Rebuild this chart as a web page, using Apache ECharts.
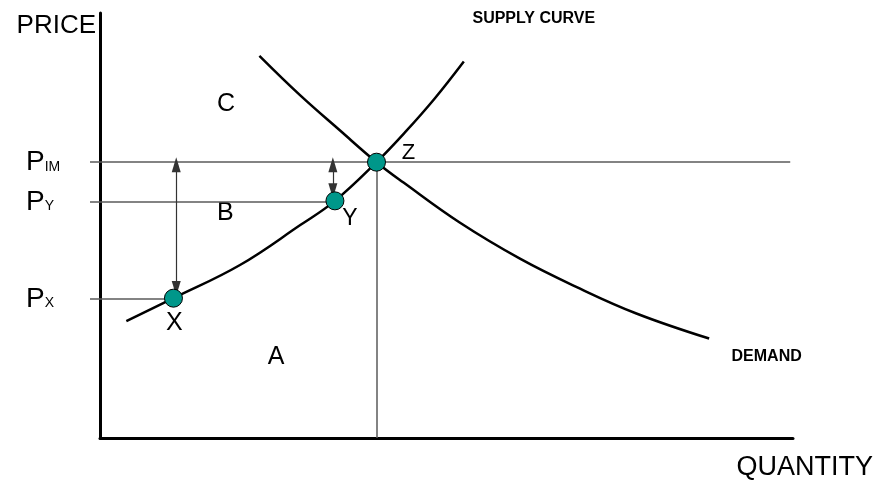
<!DOCTYPE html>
<html>
<head>
<meta charset="utf-8">
<script src="https://cdn.jsdelivr.net/npm/echarts@6/dist/echarts.min.js"></script>
<style>
  html, body { margin: 0; padding: 0; background: #fff; }
  #main { width: 876px; height: 481px; }
</style>
</head>
<body>
<div id="main"></div>
<script>
// quantity and price both run 0-100 along the axes
var supplyQ = [3.8, 10.6, 20.2, 28.9, 33.9, 39.9, 44.0, 48.3, 52.5];
var supplyP = [27.5, 32.9, 40.7, 50.1, 55.8, 64.9, 71.9, 79.9, 88.6];

var demandQ = [23.0, 28.9, 34.6, 39.9, 43.8, 51.9, 60.6, 68.8, 77.4, 87.9];
var demandP = [89.9, 80.6, 72.4, 64.9, 60.1, 50.7, 42.2, 35.5, 29.3, 23.4];

// points on the curves
var pointNames = ['X', 'Y', 'Z'];
var pointQ = [10.6, 33.9, 39.9];
var pointP = [32.9, 55.8, 64.9];

// price levels shown on the price axis
var priceNames = ['IM', 'Y', 'X'];
var priceLevels = [65.0, 55.7, 32.8];
var pimLineEnd = 99.6;

// double arrows: quantity, and the centres of the two heads
var arrowQ = [11.0, 33.6];
var arrowTop = [64.3, 64.3];
var arrowBottom = [35.2, 58.2];

// text on the plot
var noteNames = ['C', 'B', 'A', 'SUPPLY CURVE', 'DEMAND'];
var noteQ = [18.2, 18.1, 25.4, 62.6, 96.2];
var noteP = [78.5, 52.9, 19.1, 98.7, 19.1];

var FONT = '"Liberation Sans", Arial, sans-serif';
var GUIDE = '#5a5a5a';

function pairs(xs, ys) {
  var out = [];
  for (var i = 0; i < xs.length; i++) out.push([xs[i], ys[i]]);
  return out;
}

var chart = echarts.init(document.getElementById('main'));

// guide lines: PIM across, PY / PX up to their points, Z down to the axis
var guideLines = [
  [{ coord: [0, priceLevels[0]] }, { coord: [pimLineEnd, priceLevels[0]] }],
  [{ coord: [0, priceLevels[1]] }, { coord: [pointQ[1], priceLevels[1]] }],
  [{ coord: [0, priceLevels[2]] }, { coord: [pointQ[0], priceLevels[2]] }],
  [{ coord: [pointQ[2], pointP[2]] }, { coord: [pointQ[2], 0] }]
];

var arrowLines = [];
for (var i = 0; i < arrowQ.length; i++) {
  arrowLines.push([{ coord: [arrowQ[i], arrowTop[i]] }, { coord: [arrowQ[i], arrowBottom[i]] }]);
}

var pointOffsets = { X: [1, 25], Y: [15, 18], Z: [32, -9] };
var pointSizes = { X: 25, Y: 23, Z: 22 };
var pointData = pointNames.map(function (n, i) {
  return {
    value: [pointQ[i], pointP[i], n],
    label: { offset: pointOffsets[n], fontSize: pointSizes[n] }
  };
});

var noteData = noteNames.map(function (n, i) {
  var small = n.length > 1;
  return {
    value: [noteQ[i], noteP[i], n],
    label: {
      fontSize: small ? 16 : 25,
      fontWeight: small ? 'bold' : 'normal'
    }
  };
});

var option = {
  animation: false,
  grid: { left: 100, top: 13, right: 83, bottom: 41 },
  xAxis: {
    type: 'value',
    min: 0,
    max: 100,
    name: 'QUANTITY',
    nameLocation: 'end',
    nameGap: 80,
    nameTextStyle: {
      fontFamily: FONT, fontSize: 27, color: '#000',
      align: 'right', verticalAlign: 'top', padding: [16, 0, 0, 0]
    },
    axisLine: { lineStyle: { color: '#000', width: 3 } },
    axisTick: { show: false },
    axisLabel: { show: false },
    splitLine: { show: false }
  },
  yAxis: {
    type: 'value',
    min: 0,
    max: 100,
    name: 'PRICE',
    nameLocation: 'end',
    nameGap: 0,
    nameTextStyle: {
      fontFamily: FONT, fontSize: 26, color: '#000',
      align: 'right', verticalAlign: 'top', padding: [0, 4, 0, 0]
    },
    axisLine: { lineStyle: { color: '#000', width: 3 } },
    axisTick: {
      show: true,
      customValues: priceLevels,
      length: 10,
      lineStyle: { color: GUIDE, width: 1.5 }
    },
    axisLabel: {
      show: true,
      customValues: priceLevels,
      margin: 74,
      align: 'left',
      formatter: function (v) {
        var k = priceLevels.indexOf(v);
        return '{p|P}{s|' + priceNames[k] + '}';
      },
      rich: {
        p: { fontFamily: FONT, fontSize: 28, color: '#000', lineHeight: 30, verticalAlign: 'bottom' },
        s: { fontFamily: FONT, fontSize: 14, color: '#000', lineHeight: 30, verticalAlign: 'bottom', padding: [0, 0, 3, 0] }
      }
    },
    splitLine: { show: false }
  },
  series: [
    {
      name: 'guides',
      type: 'line',
      data: [],
      silent: true,
      z: 1,
      markLine: {
        silent: true,
        symbol: ['none', 'none'],
        label: { show: false },
        lineStyle: { color: GUIDE, width: 1.5, type: 'solid' },
        data: guideLines
      }
    },
    {
      name: 'supply',
      type: 'line',
      data: pairs(supplyQ, supplyP),
      smooth: 0.4,
      showSymbol: false,
      z: 2,
      lineStyle: { color: '#000', width: 2.5 }
    },
    {
      name: 'demand',
      type: 'line',
      data: pairs(demandQ, demandP),
      smooth: 0.4,
      showSymbol: false,
      z: 2,
      lineStyle: { color: '#000', width: 2.5 }
    },
    {
      name: 'points',
      type: 'scatter',
      data: pointData,
      symbol: 'circle',
      symbolSize: 18,
      z: 5,
      itemStyle: { color: '#00978a', borderColor: '#000', borderWidth: 1, opacity: 1 },
      label: {
        show: true,
        position: 'inside',
        fontFamily: FONT,
        color: '#000',
        formatter: function (p) { return p.value[2]; }
      }
    },
    {
      name: 'arrows',
      type: 'line',
      data: [],
      silent: true,
      z: 8,
      markLine: {
        silent: true,
        symbol: ['triangle', 'triangle'],
        symbolSize: [9, 15],
        label: { show: false },
        lineStyle: { color: '#333', width: 1.2, type: 'solid' },
        itemStyle: { color: '#000' },
        data: arrowLines
      }
    },
    {
      name: 'notes',
      type: 'scatter',
      data: noteData,
      symbolSize: 0,
      silent: true,
      itemStyle: { opacity: 1 },
      label: {
        show: true,
        position: 'inside',
        fontFamily: FONT,
        color: '#000',
        formatter: function (p) { return p.value[2]; }
      }
    }
  ]
};

chart.setOption(option);
</script>
</body>
</html>
